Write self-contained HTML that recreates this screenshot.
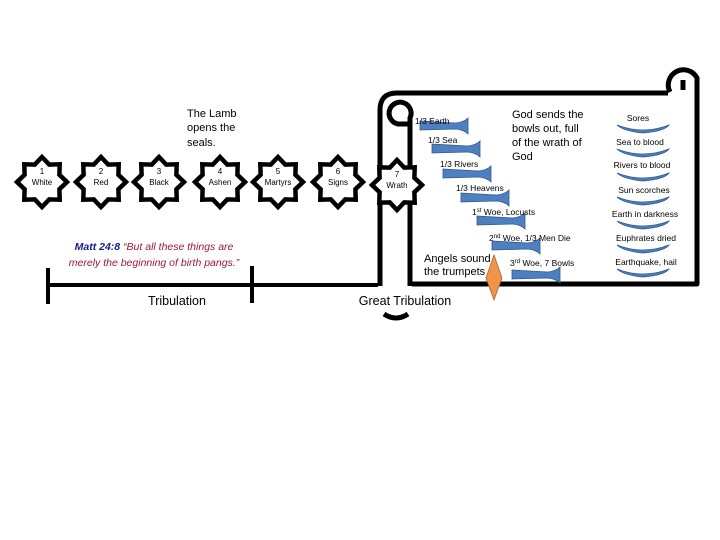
<!DOCTYPE html>
<html><head><meta charset="utf-8"><style>
html,body{margin:0;padding:0;background:#fff;width:720px;height:540px;overflow:hidden}
svg text{font-family:"Liberation Sans",sans-serif}
</style></head><body>
<svg width="720" height="540" viewBox="0 0 720 540" xmlns="http://www.w3.org/2000/svg">
<defs>
<g id="star"><polygon points="0,-25 7.2,-17.4 17.7,-17.7 17.4,-7.2 25,0 17.4,7.2 17.7,17.7 7.2,17.4 0,25 -7.2,17.4 -17.7,17.7 -17.4,7.2 -25,0 -17.4,-7.2 -17.7,-17.7 -7.2,-17.4" fill="#fff" stroke="#000" stroke-width="4.5" stroke-linejoin="miter"/></g>
<g id="tr"><path d="M0,3 L36,5 Q44,4 48,0 L48,16 Q44,12 36,11 L0,12 Z" fill="#4f7fc0" stroke="#2e5a8c" stroke-width="0.8"/></g>
<g id="bw"><path d="M0,0 Q26,10 52,0 Q48,6 26,8 Q6,6 0,0 Z" fill="#4f7fc0" stroke="#2e5a8c" stroke-width="0.8"/></g>
</defs>
<g stroke="#000" stroke-width="4" fill="none">
<line x1="48" y1="285" x2="378" y2="285"/>
<line x1="48" y1="268" x2="48" y2="304"/>
<line x1="252" y1="266" x2="252" y2="303"/>
</g>
<g stroke="#000" stroke-width="5" fill="none" stroke-linejoin="round">
<path d="M380,286 L380,110 Q380,93 397,93 L668,93"/>
<path d="M410,286 L410,118 A11,11 0 1 0 398,124 L408,124"/>
<path d="M412,284 L697,284 L697,78 A13,13 0 1 0 670,92 M683,90 L683,80"/>
<path d="M384,314 Q396,322 408,314" stroke-width="5"/>
</g>
<use href="#star" x="42" y="182"/><use href="#star" x="101" y="182"/><use href="#star" x="159" y="182"/>
<use href="#star" x="220" y="182"/><use href="#star" x="278" y="182"/><use href="#star" x="338" y="182"/><use href="#star" x="397" y="185"/>
<g font-size="8" text-anchor="middle">
<text x="42" y="174">1</text><text x="42" y="185">White</text>
<text x="101" y="174">2</text><text x="101" y="185">Red</text>
<text x="159" y="174">3</text><text x="159" y="185">Black</text>
<text x="220" y="174">4</text><text x="220" y="185">Ashen</text>
<text x="278" y="174">5</text><text x="278" y="185">Martyrs</text>
<text x="338" y="174">6</text><text x="338" y="185">Signs</text>
<text x="397" y="177">7</text><text x="397" y="188">Wrath</text>
</g>
<g font-size="11"><text x="187" y="117">The Lamb</text><text x="187" y="131">opens the</text><text x="187" y="146">seals.</text></g>
<text x="154" y="250" font-size="10.5" font-style="italic" text-anchor="middle"><tspan fill="#1a1a8c" font-weight="bold">Matt 24:8</tspan><tspan fill="#a01830"> “But all these things are</tspan></text>
<text x="154" y="266" font-size="10.5" font-style="italic" fill="#a01830" text-anchor="middle">merely the beginning of birth pangs.”</text>
<text x="177" y="305" font-size="12.5" text-anchor="middle">Tribulation</text>
<text x="405" y="305" font-size="12.5" text-anchor="middle">Great Tribulation</text>
<use href="#tr" x="420" y="118"/><use href="#tr" x="432" y="141"/><use href="#tr" x="443" y="166"/>
<use href="#tr" x="461" y="190"/><use href="#tr" x="477" y="213"/><use href="#tr" x="492" y="238"/><use href="#tr" x="512" y="267"/>
<g font-size="8.5">
<text x="415" y="124">1/3 Earth</text><text x="428" y="143">1/3 Sea</text><text x="440" y="167">1/3 Rivers</text>
<text x="456" y="191">1/3 Heavens</text>
<text x="472" y="215">1<tspan font-size="6" dy="-3">st</tspan><tspan dy="3"> Woe, Locusts</tspan></text>
<text x="489" y="241">2<tspan font-size="6" dy="-3">nd</tspan><tspan dy="3"> Woe, 1/3 Men Die</tspan></text>
<text x="510" y="266">3<tspan font-size="6" dy="-3">rd</tspan><tspan dy="3"> Woe, 7 Bowls</tspan></text>
</g>
<g font-size="11"><text x="424" y="262">Angels sound</text><text x="424" y="275">the trumpets</text></g>
<polygon points="494,255 502,278 494,300 486,278" fill="#f0944a" stroke="#b06020" stroke-width="0.8"/>
<g font-size="11"><text x="512" y="118">God sends the</text><text x="512" y="132">bowls  out, full</text><text x="512" y="146">of  the wrath of</text><text x="512" y="160">God</text></g>
<use href="#bw" x="617" y="125"/><use href="#bw" x="617" y="149"/><use href="#bw" x="617" y="173"/><use href="#bw" x="617" y="197"/>
<use href="#bw" x="617" y="221"/><use href="#bw" x="617" y="245"/><use href="#bw" x="617" y="269"/>
<g font-size="8.5" text-anchor="middle">
<text x="638" y="121">Sores</text><text x="640" y="145">Sea to blood</text><text x="642" y="168">Rivers to blood</text>
<text x="644" y="193">Sun scorches</text><text x="645" y="217">Earth in darkness</text><text x="646" y="241">Euphrates dried</text><text x="646" y="265">Earthquake, hail</text>
</g>
</svg>
</body></html>
